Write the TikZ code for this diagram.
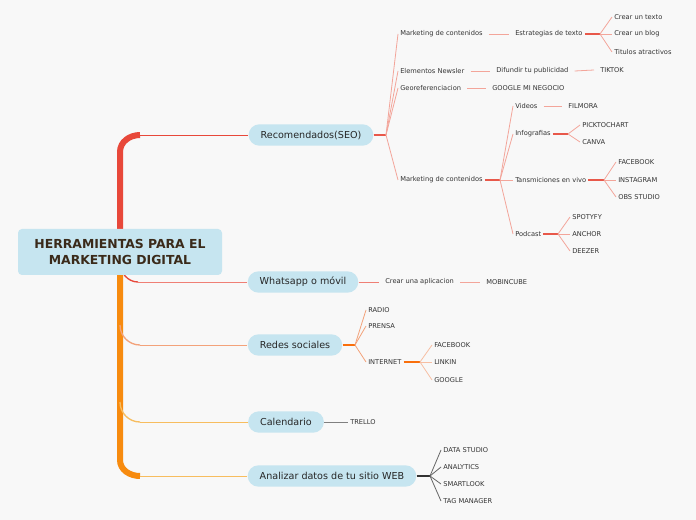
\documentclass[tikz,border=0pt]{standalone}
\usepackage{fontspec}
\setmainfont{DejaVu Sans}
\begin{document}
\begin{tikzpicture}[x=0.75pt,y=-0.75pt]
\definecolor{bg}{HTML}{F8F8F8}
\definecolor{nodebl}{HTML}{C6E5F0}
\definecolor{rootc}{HTML}{3A2A1A}
\definecolor{redc}{HTML}{E8483A}
\definecolor{orc}{HTML}{F78B0F}
\definecolor{ylc}{HTML}{F7BD5F}
\definecolor{sal}{HTML}{F3A59A}
\definecolor{salj}{HTML}{E8584A}
\definecolor{ors}{HTML}{F3A27A}
\tikzset{
 lvl/.style={fill=nodebl,rounded corners=8pt,minimum height=16pt,inner xsep=9pt,font=\fontsize{7.2}{8}\selectfont,text=black!85},
 sm/.style={anchor=west,inner sep=1.5pt,font=\fontsize{5}{6}\selectfont,text=black!80},
 sl/.style={draw=sal,line width=0.6pt},
 sj/.style={draw=salj,line width=0.9pt},
}
\fill[bg] (0,0) rectangle (696,520);
% trunk
\draw[redc,line width=4.5pt] (120,252) -- (120,152) to[out=90,in=180] (140,135);
\draw[orc,line width=4.5pt] (120,240) -- (120,460) to[out=-90,in=180] (140,476);
\draw[redc,line width=1pt] (120,262) to[out=-90,in=180] (138,282);
\draw[ors,line width=1pt] (120,325) to[out=-90,in=180] (140,345);
\draw[ylc,line width=1pt] (120,402) to[out=-90,in=180] (140,422);
\node[fill=nodebl,rounded corners=3pt,minimum width=204pt*0.75,minimum height=46*0.75pt,align=center,font=\bfseries\fontsize{9.3}{12}\selectfont,text=rootc] (root) at (120,252) {HERRAMIENTAS PARA EL\\ MARKETING DIGITAL};
\node[lvl] (seo) at (311,135) {Recomendados(SEO)};
\node[lvl] (wa) at (303,282) {Whatsapp o móvil};
\node[lvl] (rs) at (295,345) {Redes sociales};
\node[lvl] (cal) at (286,422) {Calendario};
\node[lvl] (an) at (332,476) {Analizar datos de tu sitio WEB};
\draw[redc,line width=0.7pt] (140,135) -- (seo.west);
\draw[redc!70,line width=0.7pt] (138,282) -- (wa.west);
\draw[ors,line width=0.7pt] (140,345) -- (rs.west);
\draw[ylc,line width=0.7pt] (140,422) -- (cal.west);
\draw[ylc,line width=0.7pt] (140,476) -- (an.west);
% SEO subtree
\node[sm] (m1) at (398,34) {Marketing de contenidos};
\node[sm] (en) at (398,71) {Elementos Newsler};
\node[sm] (geo) at (398,88) {Georeferenciacion};
\node[sm] (m2) at (398,180) {Marketing de contenidos};
\coordinate (j0) at (386,135);
\draw[sj] (seo.east) -- (j0);
\foreach \c in {m1,en,geo,m2} \draw[sl] (j0) -- (\c.west);
\node[sm] (est) at (513,34) {Estrategias de texto};
\draw[sl] (m1.east) ++(3pt,0) -- ([xshift=-3pt]est.west);
\node[sm] (c1) at (612,17) {Crear un texto};
\node[sm] (c2) at (612,34) {Crear un blog};
\node[sm] (c3) at (612,52) {Titulos atractivos};
\coordinate (j1) at (600,34);
\draw[sj] (est.east) -- (j1);
\foreach \c in {c1,c2,c3} \draw[sl] (j1) -- (\c.west);
\node[sm] (dif) at (494,71) {Difundir tu publicidad};
\draw[sl] ([xshift=3pt]en.east) -- ([xshift=-3pt]dif.west);
\node[sm] (tik) at (598,70) {TIKTOK};
\draw[sl] ([xshift=3pt]dif.east) -- ([xshift=-3pt]tik.west);
\node[sm] (gmn) at (490,88) {GOOGLE MI NEGOCIO};
\draw[sl] ([xshift=3pt]geo.east) -- ([xshift=-3pt]gmn.west);
\coordinate (j2) at (500,180);
\draw[sj] (m2.east) -- (j2);
\node[sm] (vid) at (513,106) {Videos};
\node[sm] (inf) at (513,134) {Infografias};
\node[sm] (tan) at (513,180) {Tansmiciones en vivo};
\node[sm] (pod) at (513,234) {Podcast};
\foreach \c in {vid,inf,tan,pod} \draw[sl] (j2) -- (\c.west);
\node[sm] (fil) at (566,106) {FILMORA};
\draw[sl] ([xshift=3pt]vid.east) -- ([xshift=-3pt]fil.west);
\coordinate (j3) at (568,134);
\draw[sj] (inf.east) -- (j3);
\node[sm] (pic) at (580,125) {PICKTOCHART};
\node[sm] (can) at (580,142) {CANVA};
\foreach \c in {pic,can} \draw[sl] (j3) -- (\c.west);
\coordinate (j4) at (604,180);
\draw[sj] (tan.east) -- (j4);
\node[sm] (fb1) at (616,162) {FACEBOOK};
\node[sm] (ins) at (616,180) {INSTAGRAM};
\node[sm] (obs) at (616,197) {OBS STUDIO};
\foreach \c in {fb1,ins,obs} \draw[sl] (j4) -- (\c.west);
\coordinate (j5) at (558,234);
\draw[sj] (pod.east) -- (j5);
\node[sm] (spo) at (570,217) {SPOTYFY};
\node[sm] (anc) at (570,234) {ANCHOR};
\node[sm] (dee) at (570,251) {DEEZER};
\foreach \c in {spo,anc,dee} \draw[sl] (j5) -- (\c.west);
% Whatsapp
\node[sm] (app) at (383,282) {Crear una aplicacion};
\draw[redc!70,line width=0.6pt] (wa.east) -- ([xshift=-3pt]app.west);
\node[sm] (mob) at (484,282) {MOBINCUBE};
\draw[sl] ([xshift=3pt]app.east) -- ([xshift=-3pt]mob.west);
% Redes
\coordinate (j6) at (355,345);
\draw[draw=orc!80!red,line width=0.9pt] (rs.east) -- (j6);
\node[sm] (rad) at (366,310) {RADIO};
\node[sm] (pre) at (366,326) {PRENSA};
\node[sm] (int) at (366,362) {INTERNET};
\foreach \c in {rad,pre,int} \draw[ors,line width=0.6pt] (j6) -- (\c.west);
\coordinate (j7) at (420,362);
\draw[draw=orc!80!red,line width=0.9pt] (int.east) -- (j7);
\node[sm] (fb2) at (432,345) {FACEBOOK};
\node[sm] (lin) at (432,362) {LINKIN};
\node[sm] (goo) at (432,380) {GOOGLE};
\foreach \c in {fb2,lin,goo} \draw[ors!70,line width=0.6pt] (j7) -- (\c.west);
% Calendario
\node[sm] (tre) at (348,422) {TRELLO};
\draw[gray,line width=0.7pt] (cal.east) -- (tre.west);
% Analizar
\coordinate (j8) at (430,476);
\draw[black!80,line width=0.9pt] (an.east) -- (j8);
\node[sm] (ds) at (441,450) {DATA STUDIO};
\node[sm] (ana) at (441,467) {ANALYTICS};
\node[sm] (sma) at (441,484) {SMARTLOOK};
\node[sm] (tag) at (441,501) {TAG MANAGER};
\foreach \c in {ds,ana,sma,tag} \draw[black!60,line width=0.6pt] (j8) -- (\c.west);
\end{tikzpicture}
\end{document}
